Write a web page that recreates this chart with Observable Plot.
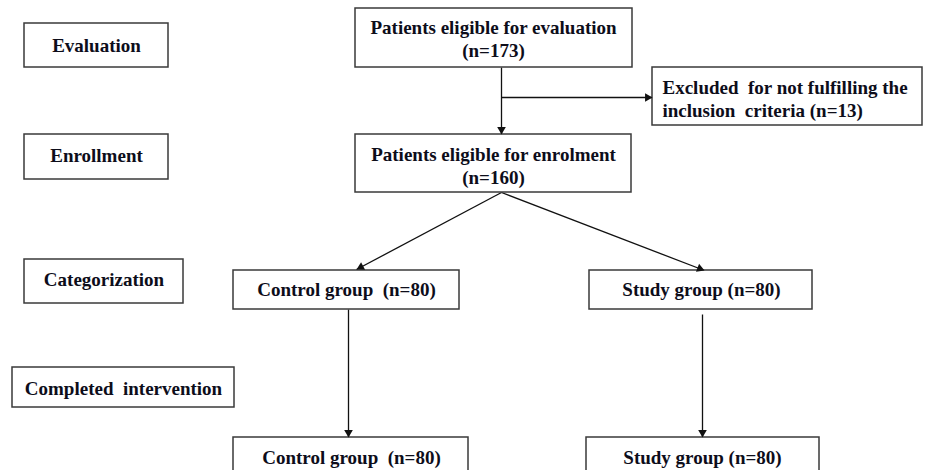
<!DOCTYPE html>
<html><head><meta charset="utf-8">
<script src="https://cdn.jsdelivr.net/npm/d3@7"></script>
<script src="https://cdn.jsdelivr.net/npm/@observablehq/plot@0.6"></script>
<style>html,body{margin:0;padding:0;background:#fff;overflow:hidden}</style>
</head><body><div id="chart"></div>
<script>
// ---- data ----
const stageLabels = ["Evaluation", "Enrollment", "Categorization", "Completed  intervention"];
const nodeNames = ["Patients eligible for evaluation", "Excluded  for not fulfilling the\ninclusion  criteria", "Patients eligible for enrolment", "Control group ", "Study group", "Control group ", "Study group"];
const nodeCounts = [173, 13, 160, 80, 80, 80, 80];
const nodeBreak = [true, false, true, false, false, false, false]; // count on a new line?
const flows = [[0, 2], [0, 1], [2, 3], [2, 4], [3, 5], [4, 6]]; // from -> to (node indices)

// ---- layout (positions, in pixels of the 926x470 canvas) ----
const stageLayout = [
  {x1: 24, x2: 168, y1: 23, y2: 67, ty: 44},
  {x1: 24, x2: 168, y1: 134, y2: 179, ty: 154},
  {x1: 24, x2: 183, y1: 259, y2: 303, ty: 278},
  {x1: 12, x2: 234, y1: 367, y2: 407, ty: 387}
];
const nodeLayout = [
  {x1: 355, x2: 632, y1: 8, y2: 67, tx: 493, ty: 38, anchor: "middle"},
  {x1: 652, x2: 922, y1: 67, y2: 125, tx: 662, ty: 98, anchor: "start"},
  {x1: 355, x2: 631, y1: 134, y2: 192, tx: 493, ty: 165, anchor: "middle"},
  {x1: 233, x2: 459, y1: 270, y2: 309, tx: 346, ty: 288, anchor: "middle"},
  {x1: 589, x2: 812, y1: 270, y2: 309, tx: 701, ty: 288, anchor: "middle"},
  {x1: 233, x2: 468, y1: 437, y2: 495, tx: 351, ty: 456, anchor: "middle"},
  {x1: 586, x2: 819, y1: 437, y2: 495, tx: 702, ty: 456, anchor: "middle"}
];
const flowLayout = [
  {x1: 501, y1: 67, x2: 501, y2: 134},
  {x1: 501, y1: 97, x2: 652, y2: 97},
  {x1: 501, y1: 192, x2: 356, y2: 269},
  {x1: 501, y1: 192, x2: 704, y2: 270},
  {x1: 348, y1: 309, x2: 348, y2: 437},
  {x1: 702, y1: 314, x2: 702, y2: 437}
];

// ---- build tables ----
const stages = stageLabels.map((label, i) => ({label, ...stageLayout[i]}));
const nodes = nodeNames.map((name, i) => ({
  label: name + (nodeBreak[i] ? "\n" : " ") + "(n=" + nodeCounts[i] + ")",
  ...nodeLayout[i]
}));
const links = flows.map(([from, to], i) => ({from, to, ...flowLayout[i]}));
const R = 3.2;
const tipDist = 2 * Math.sqrt(Math.PI * R * R / (Math.sqrt(3) * 3));
const heads = links.map(d => {
  const dx = d.x2 - d.x1, dy = d.y2 - d.y1, len = Math.hypot(dx, dy);
  return {x: d.x2 - dx / len * tipDist, y: d.y2 - dy / len * tipDist,
          angle: Math.atan2(dx, -dy) * 180 / Math.PI};
});

const font = "'Liberation Serif', 'Times New Roman', serif";
const textOpts = {fontWeight: "bold", fontSize: 19, lineHeight: 1.2, fill: "#0d0d1a", fontFamily: font};
const chart = Plot.plot({
  width: 926, height: 470, margin: 0,
  x: {domain: [0, 926], range: [0, 926], axis: null},
  y: {domain: [0, 470], range: [0, 470], axis: null},
  style: {fontFamily: font, background: "#fff", overflow: "hidden"},
  marks: [
    Plot.link(links, {x1: "x1", y1: "y1", x2: "x2", y2: "y2", stroke: "#111", strokeWidth: 1.3}),
    Plot.rect(stages, {x1: "x1", x2: "x2", y1: "y1", y2: "y2", fill: "#fff", stroke: "#3a3a3a", strokeWidth: 1.5}),
    Plot.rect(nodes, {x1: "x1", x2: "x2", y1: "y1", y2: "y2", fill: "#fff", stroke: "#3a3a3a", strokeWidth: 1.5}),
    Plot.dot(heads, {x: "x", y: "y", rotate: "angle", symbol: "triangle", r: R, fill: "#111", stroke: "none"}),
    Plot.text(stages, {x: d => (d.x1 + d.x2) / 2, y: "ty", text: "label", ...textOpts}),
    Plot.text(nodes.filter(d => d.anchor === "middle"), {x: "tx", y: "ty", text: "label", textAnchor: "middle", ...textOpts}),
    Plot.text(nodes.filter(d => d.anchor === "start"), {x: "tx", y: "ty", text: "label", textAnchor: "start", ...textOpts})
  ]
});
document.getElementById("chart").appendChild(chart);
</script>
</body></html>
